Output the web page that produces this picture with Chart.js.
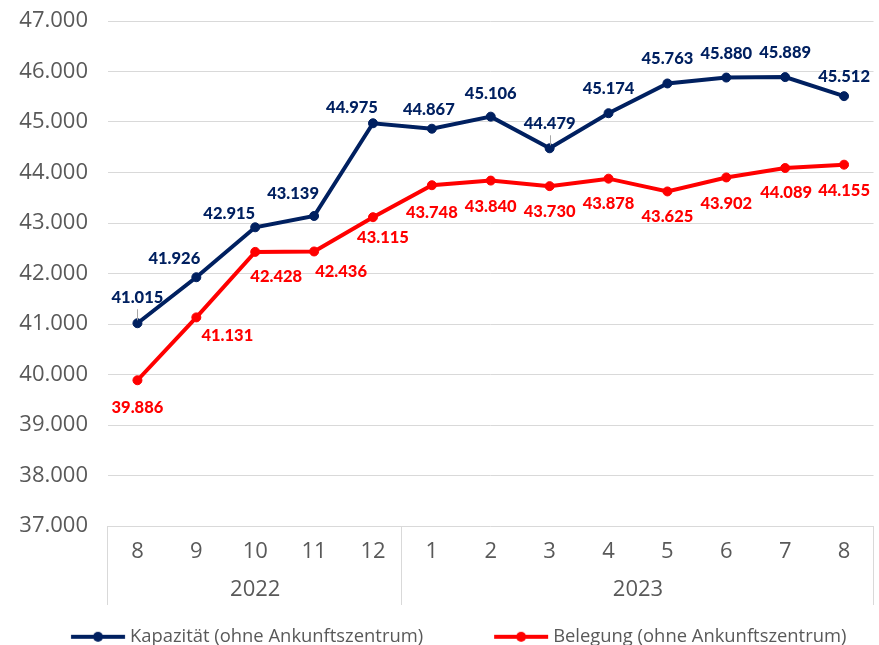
<!DOCTYPE html>
<html>
<head>
<meta charset="utf-8">
<script src="https://cdn.jsdelivr.net/npm/chart.js@4.4.1/dist/chart.umd.min.js"></script>
<style>
  html, body { margin: 0; padding: 0; overflow: hidden; background: #ffffff; }
  #wrap { position: relative; width: 879px; height: 656px; }
</style>
</head>
<body>
<div id="wrap"><canvas id="c"></canvas></div>
<script>
// ---------- data ----------
const months = ['8', '9', '10', '11', '12', '1', '2', '3', '4', '5', '6', '7', '8'];
const yearLabels = ['2022', '2023'];
const yearMonthCounts = [5, 8];
const kapazitaet = [41015, 41926, 42915, 43139, 44975, 44867, 45106, 44479, 45174, 45763, 45880, 45889, 45512];
const belegung = [39886, 41131, 42428, 42436, 43115, 43748, 43840, 43730, 43878, 43625, 43902, 44089, 44155];
const seriesNames = ['Kapazität (ohne Ankunftszentrum)', 'Belegung (ohne Ankunftszentrum)'];
const yMin = 37000, yMax = 47000, yStep = 1000;

// ---------- style ----------
const BLUE = '#002060', RED = '#FF0000', GRID = '#d9d9d9', TXT = '#595959';
const FAMILY = "'Open Sans', 'Noto Sans', sans-serif";
const LABEL_FONT = "900 16.5px Lato, 'Open Sans', sans-serif";
// label placement relative to each point (dx, dy), as in the reference
const labelOffsets = [
  [[0,-26],[-22,-19],[-26,-14],[-21,-22],[-21,-16],[-3,-19],[0,-23],[0,-25],[0,-25],[0,-25],[0,-24],[0,-24],[0,-19]],
  [[0,27],[31,18],[21,25],[27,20],[10,20],[0,27],[0,26],[0,26],[0,25],[0,25],[0,26],[1,25],[0,26]]
];
const leaderLines = [[0, 7], []];

const fmt = v => String(Math.round(v)).replace(/\B(?=(\d{3})+(?!\d))/g, '.');

// year group centres and boundaries (in category index units)
const yearTicks = [], yearBounds = [-0.5];
(function () {
  let start = 0;
  yearMonthCounts.forEach(c => {
    yearTicks.push(start + (c - 1) / 2);
    start += c;
    yearBounds.push(start - 0.5);
  });
})();

// ---------- legend geometry ----------
const mctx = document.createElement('canvas').getContext('2d');
const LF_BASE = 18.5;
mctx.font = LF_BASE + 'px ' + FAMILY;
const LF = Math.round(LF_BASE * 293 / mctx.measureText(seriesNames[0]).width * 10) / 10;
const LEG_PAD = 8;
const TEXT1_X = 130;
const A = TEXT1_X - LEG_PAD;      // boxWidth + fontSize/2
const BOXW = A - LF / 2;
const H = Math.round(647 + LF / 2);
document.getElementById('wrap').style.height = H + 'px';
const X2H = (H - LF - LEG_PAD - 10) - 565;

function legendImage(color) {
  const K = 14;
  const Wi = Math.round(BOXW + 2 * K), h = 14;
  const cv = document.createElement('canvas');
  cv.width = Wi; cv.height = h;
  const g = cv.getContext('2d');
  const lx0 = A - 59 - BOXW / 2 + Wi / 2;
  g.strokeStyle = color; g.lineWidth = 4;
  g.beginPath(); g.moveTo(lx0, h / 2); g.lineTo(lx0 + 54, h / 2); g.stroke();
  g.fillStyle = color;
  g.beginPath(); g.arc(lx0 + 27, h / 2, 5, 0, Math.PI * 2); g.fill();
  return cv;
}
const legendImages = [legendImage(BLUE), legendImage(RED)];

// ---------- plugins ----------
const separatorPlugin = {
  id: 'yearSeparators',
  afterDraw(chart) {
    const x = chart.scales.x, x2 = chart.scales.x2, ctx = chart.ctx;
    ctx.save();
    ctx.strokeStyle = GRID; ctx.lineWidth = 1;
    yearBounds.forEach(b => {
      const px = Math.round(x2.getPixelForValue(b)) - 0.5;
      ctx.beginPath();
      ctx.moveTo(px, x.top);
      ctx.lineTo(px, x2.top + 40);
      ctx.stroke();
    });
    ctx.restore();
  }
};

const valueLabelPlugin = {
  id: 'valueLabels',
  afterDatasetsDraw(chart) {
    const ctx = chart.ctx;
    ctx.save();
    chart.data.datasets.forEach((ds, di) => {
      const meta = chart.getDatasetMeta(di);
      meta.data.forEach((pt, i) => {
        const [dx, dy] = labelOffsets[di][i];
        const lx = pt.x + dx, ly = pt.y + dy;
        if (leaderLines[di].includes(i)) {
          ctx.strokeStyle = '#a6a6a6'; ctx.lineWidth = 1;
          ctx.beginPath();
          ctx.moveTo(Math.round(pt.x) + 0.5, ly + 12);
          ctx.lineTo(Math.round(pt.x) + 0.5, pt.y - 3);
          ctx.stroke();
        }
        ctx.font = LABEL_FONT;
        ctx.fillStyle = ds.borderColor;
        ctx.textAlign = 'center';
        ctx.textBaseline = 'middle';
        ctx.fillText(fmt(ds.data[i]), lx, ly);
      });
    });
    ctx.restore();
  }
};

// ---------- chart ----------
new Chart(document.getElementById('c'), {
  type: 'line',
  data: {
    labels: months,
    datasets: [
      {
        label: seriesNames[0], data: kapazitaet,
        borderColor: BLUE, backgroundColor: BLUE, borderWidth: 4,
        pointRadius: 4.5, pointBorderWidth: 1, pointBackgroundColor: BLUE, pointBorderColor: BLUE,
        tension: 0, xAxisID: 'x', yAxisID: 'y'
      },
      {
        label: seriesNames[1], data: belegung,
        borderColor: RED, backgroundColor: RED, borderWidth: 4,
        pointRadius: 4.5, pointBorderWidth: 1, pointBackgroundColor: RED, pointBorderColor: RED,
        tension: 0, xAxisID: 'x', yAxisID: 'y'
      }
    ]
  },
  options: {
    responsive: true,
    maintainAspectRatio: false,
    animation: false,
    events: [],
    layout: { padding: { top: 21, right: 1, left: 0, bottom: 0 } },
    scales: {
      x: {
        type: 'category', position: 'bottom', offset: true,
        grid: { display: false, drawTicks: false },
        border: { display: false },
        ticks: { color: TXT, font: { family: FAMILY, size: 22 }, padding: 12.8, maxRotation: 0, autoSkip: false },
        afterFit: s => { s.height = 39; }
      },
      x2: {
        type: 'linear', position: 'bottom', min: -0.5, max: 12.5,
        grid: { display: false, drawTicks: false },
        border: { display: false },
        afterBuildTicks: s => { s.ticks = yearTicks.map(v => ({ value: v })); },
        ticks: {
          autoSkip: false, maxRotation: 0, color: TXT, font: { family: FAMILY, size: 22 }, padding: 11.8,
          callback: v => { const i = yearTicks.indexOf(v); return i >= 0 ? yearLabels[i] : ''; }
        },
        afterFit: s => { s.height = X2H; }
      },
      y: {
        min: yMin, max: yMax,
        ticks: { stepSize: yStep, color: TXT, font: { family: FAMILY, size: 22 }, padding: 0, callback: v => fmt(v) },
        grid: { color: GRID, lineWidth: 1, drawTicks: true, tickLength: 20, tickColor: 'rgba(0,0,0,0)' },
        border: { display: false },
        afterFit: s => { s.width = 108; }
      }
    },
    plugins: {
      tooltip: { enabled: false },
      legend: {
        display: true, position: 'bottom', align: 'start',
        labels: {
          usePointStyle: true, pointStyleWidth: BOXW, padding: LEG_PAD,
          color: TXT, font: { family: FAMILY, size: LF },
          generateLabels: chart => chart.data.datasets.map((d, i) => ({
            text: d.label, pointStyle: legendImages[i], fillStyle: d.borderColor,
            strokeStyle: d.borderColor, lineWidth: 0, hidden: false, datasetIndex: i, fontColor: TXT
          }))
        }
      }
    }
  },
  plugins: [separatorPlugin, valueLabelPlugin]
});
</script>
</body>
</html>
